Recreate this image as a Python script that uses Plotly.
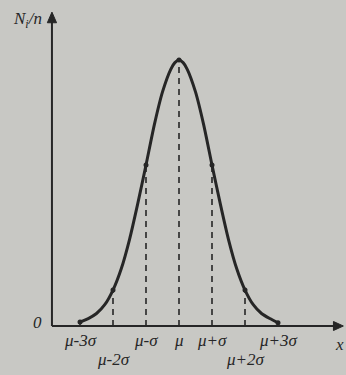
import plotly.graph_objects as go

# Normalised frequency curve N_i/n (x in units of sigma from mu)
x_vals = [-3.0, -2.75, -2.5, -2.25, -2.0, -1.75, -1.5, -1.25, -1.0, -0.75, -0.5, -0.25, -0.125, 0.0,
          0.125, 0.25, 0.5, 0.75, 1.0, 1.25, 1.5, 1.75, 2.0, 2.25, 2.5, 2.75, 3.0]
y_vals = [0.015, 0.028, 0.047, 0.08, 0.135, 0.215, 0.325, 0.46, 0.605, 0.755, 0.88, 0.965, 0.99, 1.0,
          0.99, 0.965, 0.88, 0.755, 0.605, 0.46, 0.325, 0.215, 0.135, 0.08, 0.047, 0.028, 0.012]

# Marked positions on the x axis
tick_pos = [-3, -2, -1, 0, 1, 2, 3]
tick_heights = [0.015, 0.135, 0.605, 1.0, 0.605, 0.135, 0.012]
tick_labels = ["μ-3σ", "μ-2σ", "μ-σ", "μ", "μ+σ", "μ+2σ", "μ+3σ"]
tick_row = [0, 1, 0, 0, 0, 1, 0]

INK = "#262626"
BG = "#c8c8c4"

fig = go.Figure()

# dashed verticals
vx, vy = [], []
for p, h in zip(tick_pos, tick_heights):
    vx += [p, p, None]
    vy += [0, h, None]
fig.add_trace(go.Scatter(x=vx, y=vy, mode="lines",
                         line=dict(color=INK, width=1.6, dash="6px,5px"),
                         hoverinfo="skip", showlegend=False))

# curve
fig.add_trace(go.Scatter(x=x_vals, y=y_vals, mode="lines",
                         line=dict(color=INK, width=3, shape="spline", smoothing=0.6),
                         showlegend=False))

# points on the curve
fig.add_trace(go.Scatter(x=tick_pos, y=tick_heights, mode="markers",
                         marker=dict(color=INK, size=5),
                         showlegend=False))

# axes with arrowheads
y_axis_x = -3.85
x_end = 4.98
y_end = 1.18
fig.add_shape(type="line", x0=y_axis_x, x1=x_end - 0.2, y0=0, y1=0, line=dict(color=INK, width=2))
fig.add_shape(type="line", x0=y_axis_x, x1=y_axis_x, y0=0, y1=y_end - 0.03, line=dict(color=INK, width=2))
fig.add_shape(type="path",
              path=f"M {x_end} 0 L {x_end - 0.3} 0.017 L {x_end - 0.3} -0.017 Z",
              fillcolor=INK, line=dict(color=INK, width=1))
fig.add_shape(type="path",
              path=f"M {y_axis_x} {y_end} L {y_axis_x - 0.14} {y_end - 0.04} L {y_axis_x + 0.14} {y_end - 0.04} Z",
              fillcolor=INK, line=dict(color=INK, width=1))

font = dict(family="Liberation Serif", size=17, color=INK)
for p, lab, row in zip(tick_pos, tick_labels, tick_row):
    fig.add_annotation(x=p, y=-0.055 if row == 0 else -0.125, text=f"<i>{lab}</i>",
                       showarrow=False, font=font)

fig.add_annotation(x=-4.3, y=0.015, text="<i>0</i>", showarrow=False, font=font)
fig.add_annotation(x=4.85, y=-0.07, text="<i>x</i>", showarrow=False, font=font)
fig.add_annotation(x=-4.6, y=1.15, text="<i>N<sub>i</sub>/n</i>", showarrow=False, font=font)

fig.update_layout(
    width=346, height=375,
    margin=dict(l=0, r=0, t=0, b=0),
    paper_bgcolor=BG, plot_bgcolor=BG,
    xaxis=dict(visible=False, range=[-179/33, (346-179)/33], fixedrange=True),
    yaxis=dict(visible=False, range=[(326-375)/266, 326/266], fixedrange=True),
    showlegend=False,
)

fig.write_html("out.html",
               config={"displayModeBar": False},
               post_script="document.body.style.margin='0';document.body.style.overflow='hidden';"
                           "document.body.style.background='" + BG + "';")
